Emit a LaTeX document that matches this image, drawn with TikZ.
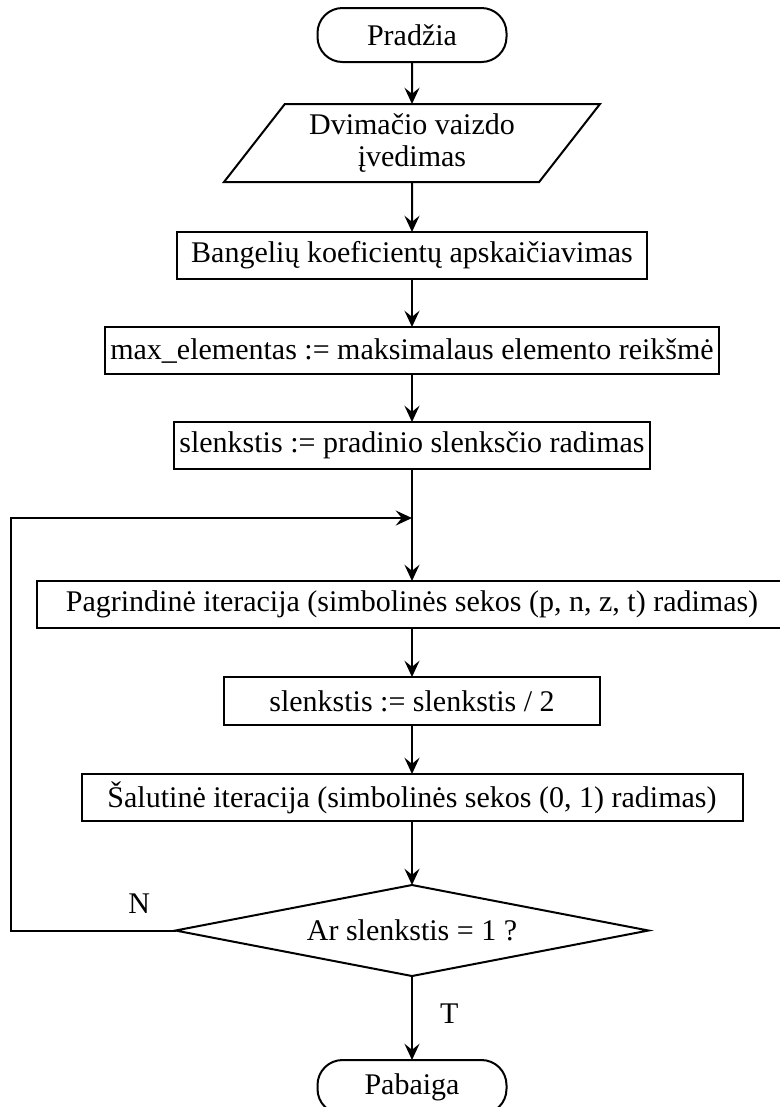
\documentclass[tikz,border=0pt]{standalone}
\usepackage{fontspec}
\setmainfont{Liberation Serif}
\usetikzlibrary{shapes.geometric, arrows.meta, positioning, calc}

\begin{document}
\begin{tikzpicture}[
        font=\fontsize{12}{14}\selectfont,
        terminal/.style={rectangle, draw=black, line width=0.8pt, outer sep=0pt, rounded corners=10pt, minimum width=75.6pt, minimum height=21.6pt, align=center},
        io/.style={trapezium, trapezium left angle=46, trapezium right angle=134, trapezium stretches body, draw=black, line width=0.8pt, outer sep=0pt, minimum width=150.4pt, minimum height=31.2pt, inner sep=1pt, align=center, font=\fontsize{12}{12.5}\selectfont},
        process/.style={rectangle, draw=black, line width=0.8pt, outer sep=0pt, minimum height=18.8pt, inner sep=2pt, align=center},
        decision/.style={diamond, aspect=5.2, draw=black, line width=0.8pt, outer sep=0pt, minimum width=189.2pt, minimum height=36.4pt, inner sep=0pt},
        arrow/.style={-{Stealth[length=6.5pt, width=6pt, inset=2.4pt]}, line width=0.8pt}
    ]
    \useasboundingbox (0,0) rectangle (312pt,-442.8pt);

    % Nodes
    \node[terminal] (start) at (164.8pt,-14pt) {Pradžia};
    \node[io, below=16.8pt of start] (input) {Dvimačio vaizdo\\įvedimas};
    \node[process, minimum width=188pt, below=20pt of input] (wavelet) {Bangelių koeficientų apskaičiavimas};
    \node[process, minimum width=198.8pt, below=19.2pt of wavelet] (maxel) {max\_elementas := maksimalaus elemento reikšmė};
    \node[process, minimum width=164pt, below=19.2pt of maxel] (thresh) {slenkstis := pradinio slenksčio radimas};
    \coordinate[below=19.6pt of thresh] (merge);
    \node[process, minimum width=300pt, below=44.8pt of thresh] (mainit) {Pagrindinė iteracija (simbolinės sekos (p, n, z, t) radimas)};
    \node[process, minimum width=150.4pt, minimum height=19.2pt, below=19.6pt of mainit] (half) {slenkstis := slenkstis / 2};
    \node[process, minimum width=264.4pt, below=19.6pt of half] (subit) {Šalutinė iteracija (simbolinės sekos (0, 1) radimas)};
    \node[decision, below=25.6pt of subit] (check) {Ar slenkstis = 1 ?};
    \node[terminal, below=33.6pt of check] (stop) {Pabaiga};

    % Arrows
    \draw[arrow] (start) -- (input);
    \draw[arrow] (input) -- (wavelet);
    \draw[arrow] (wavelet) -- (maxel);
    \draw[arrow] (maxel) -- (thresh);
    \draw[arrow] (thresh) -- (mainit);
    \draw[arrow] (mainit) -- (half);
    \draw[arrow] (half) -- (subit);
    \draw[arrow] (subit) -- (check);
    \draw[arrow] (check) -- node[pos=0.45, right=7.5pt] {T} (stop);

    % Loop back
    \draw[arrow] (check.west) -- node[pos=0.22, above=3.2pt] {N} ++(-66pt,0) |- (merge);

\end{tikzpicture}
\end{document}
